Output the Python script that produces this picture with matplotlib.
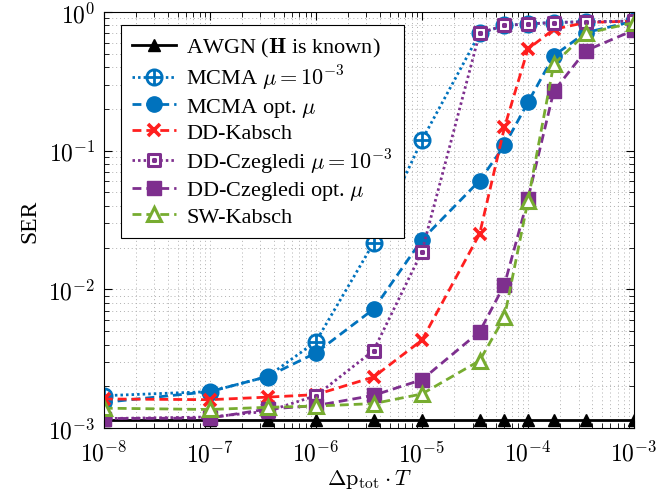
import numpy as np
import matplotlib
matplotlib.use("Agg")
import matplotlib.pyplot as plt
from matplotlib.path import Path
from matplotlib.ticker import FuncFormatter, LogLocator

plt.rcParams['font.family'] = 'serif'
plt.rcParams['font.serif'] = ['Liberation Serif', 'DejaVu Serif']
plt.rcParams['mathtext.fontset'] = 'cm'
plt.rcParams['font.size'] = 16

# datos
dp_T = [1e-8, 1e-7, 3.5e-7, 1e-6, 3.5e-6, 1e-5, 3.5e-5, 6e-5, 1e-4, 1.75e-4, 3.5e-4, 1e-3]
awgn = [1.15e-3, 1.15e-3, 1.15e-3, 1.15e-3, 1.15e-3, 1.15e-3, 1.15e-3, 1.15e-3, 1.15e-3, 1.15e-3, 1.15e-3, 1.15e-3]
mcma_mu = [1.71e-3, 1.83e-3, 2.35e-3, 4.2e-3, 0.0216, 0.119, 0.70, 0.80, 0.82, 0.84, 0.85, 0.86]
mcma_opt = [1.53e-3, 1.83e-3, 2.35e-3, 3.48e-3, 7.2e-3, 0.0228, 0.0608, 0.109, 0.223, 0.484, 0.71, 0.86]
dd_kabsch = [1.62e-3, 1.6e-3, 1.67e-3, 1.74e-3, 2.33e-3, 4.3e-3, 0.0251, 0.147, 0.541, 0.75, 0.84, 0.86]
czeg_mu = [1.17e-3, 1.2e-3, 1.32e-3, 1.71e-3, 3.62e-3, 0.0187, 0.706, 0.80, 0.82, 0.84, 0.85, 0.86]
czeg_opt = [1.17e-3, 1.18e-3, 1.37e-3, 1.45e-3, 1.72e-3, 2.23e-3, 4.95e-3, 0.0108, 0.045, 0.268, 0.526, 0.74]
sw_kabsch = [1.39e-3, 1.36e-3, 1.41e-3, 1.44e-3, 1.5e-3, 1.76e-3, 3.06e-3, 6.3e-3, 0.0436, 0.42, 0.70, 0.84]

azul = '#0072BD'
rojo = '#FF1F1F'
morado = '#7E2F8E'
verde = '#77AC30'

# marcadores propios: circulo con cruz y cuadrado con punto
circ = Path.unit_circle()
oplus = Path.make_compound_path(
    circ,
    Path([(-1, 0), (1, 0)], [Path.MOVETO, Path.LINETO]),
    Path([(0, -1), (0, 1)], [Path.MOVETO, Path.LINETO]),
)
sq = Path([(-1, -1), (1, -1), (1, 1), (-1, 1), (-1, -1)], closed=True)
dot = Path([(-0.15, -0.15), (0.15, -0.15), (0.15, 0.15), (-0.15, 0.15), (-0.15, -0.15)], closed=True)
boxdot = Path.make_compound_path(sq, dot)

dashed = (0, (3.2, 1.8))
dotted = (0, (0.9, 1.1))

fig = plt.figure(figsize=(6.57, 5.02), dpi=100)
ax = fig.add_axes([0.158, 0.1454, 0.807, 0.8287])

lw = 2.0
ax.plot(dp_T, awgn, color='black', ls='-', lw=lw, marker='^', ms=9, label=r'AWGN ($\mathbf{H}$ is known)')
ax.plot(dp_T, mcma_mu, color=azul, ls=dotted, lw=lw, marker=oplus, ms=11, mfc='white', mec=azul, mew=2.0,
        label=r'MCMA $\mu = 10^{-3}$')
ax.plot(dp_T, mcma_opt, color=azul, ls=dashed, lw=lw, marker='o', ms=11, label=r'MCMA opt. $\mu$')
ax.plot(dp_T, dd_kabsch, color=rojo, ls=dashed, lw=lw, marker='x', ms=9, mew=2.6, label='DD-Kabsch')
ax.plot(dp_T, czeg_mu, color=morado, ls=dotted, lw=lw, marker=boxdot, ms=9, mfc='white', mec=morado, mew=2.2,
        label=r'DD-Czegledi $\mu = 10^{-3}$')
ax.plot(dp_T, czeg_opt, color=morado, ls=dashed, lw=lw, marker='s', ms=10, label=r'DD-Czegledi opt. $\mu$')
ax.plot(dp_T, sw_kabsch, color=verde, ls=dashed, lw=lw, marker='^', ms=10, mfc='white', mec=verde, mew=2.2,
        label='SW-Kabsch')

ax.set_xscale('log')
ax.set_yscale('log')
ax.set_xlim(1e-8, 1e-3)
ax.set_ylim(1e-3, 1)

fmt = FuncFormatter(lambda v, p: r'$10^{%d}$' % round(np.log10(v)))
ax.xaxis.set_major_formatter(fmt)
ax.yaxis.set_major_formatter(fmt)
ax.xaxis.set_minor_locator(LogLocator(base=10, subs=np.arange(2, 10), numticks=20))
ax.yaxis.set_minor_locator(LogLocator(base=10, subs=np.arange(2, 10), numticks=20))

ax.tick_params(which='both', direction='in', top=True, right=True, labelsize=17)
ax.tick_params(which='major', length=6, width=0.8)
ax.tick_params(which='minor', length=3.5, width=0.6)
ax.tick_params(axis='x', which='major', pad=9)
ax.tick_params(axis='y', which='major', pad=6)
ax.grid(True, which='both', ls=(0, (1, 3)), color='#b0b0b0', lw=0.7)

ax.set_xlabel(r'$\Delta \mathrm{p}_{\mathrm{tot}} \cdot T$', fontsize=16, labelpad=1)
ax.set_ylabel('SER', fontsize=17, labelpad=6)

leg = ax.legend(loc='upper left', bbox_to_anchor=(0.032, 0.969), borderaxespad=0, fancybox=False,
                framealpha=1, edgecolor='black', handlelength=2.0, fontsize=16, labelspacing=0.17,
                borderpad=0.5, handletextpad=0.45)
leg.get_frame().set_linewidth(0.8)

plt.savefig('out.png', dpi=100)
